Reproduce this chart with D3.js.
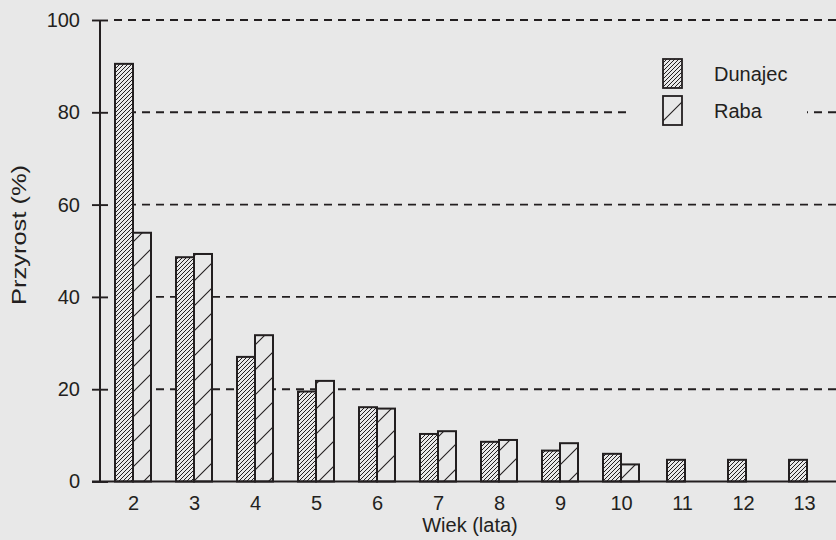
<!DOCTYPE html>
<html lang="pl">
<head>
<meta charset="UTF-8">
<title>Przyrost - Dunajec i Raba</title>
<script src="https://cdn.jsdelivr.net/npm/d3@7"></script>
<style>
  body { margin: 0; background: #e8e8e8; }
  svg { display: block; font-family: "Liberation Sans", Arial, sans-serif; }
  text { fill: #231f20; }
</style>
</head>
<body>
<svg width="836" height="540"></svg>
<script>
  // dane
  const ages = [2, 3, 4, 5, 6, 7, 8, 9, 10, 11, 12, 13];
  const dunajec = [90.5, 48.6, 27.0, 19.5, 16.1, 10.3, 8.6, 6.7, 6.0, 4.7, 4.7, 4.7];
  const raba = [53.9, 49.3, 31.7, 21.8, 15.8, 10.9, 9.0, 8.3, 3.7, null, null, null];
  const yTicks = [0, 20, 40, 60, 80, 100];
  const seriesNames = ["Dunajec", "Raba"];

  const ink = "#231f20";
  const bg = "#e8e8e8";
  const W = 836, H = 540;
  const barW = 18;
  const fs = 20;

  const svg = d3.select("svg");
  svg.append("rect").attr("width", W).attr("height", H).attr("fill", bg);

  const x = d3.scalePoint().domain(ages).range([133, 804]);
  const y = d3.scaleLinear().domain([0, 100]).range([481.5, 20]);
  const axisX = 100;

  // wzory kreskowania
  const defs = svg.append("defs");
  const pd = defs.append("pattern").attr("id", "hatchD")
    .attr("patternUnits", "userSpaceOnUse").attr("width", 4).attr("height", 4);
  pd.append("rect").attr("width", 4).attr("height", 4).attr("fill", bg);
  pd.append("path").attr("d", "M-1,1 l2,-2 M0,4 l4,-4 M3,5 l2,-2")
    .attr("stroke", ink).attr("stroke-width", 1);

  const pr = defs.append("pattern").attr("id", "hatchR")
    .attr("patternUnits", "userSpaceOnUse").attr("width", 25).attr("height", 25);
  pr.append("rect").attr("width", 25).attr("height", 25).attr("fill", bg);
  pr.append("path").attr("d", "M-2,2 l4,-4 M0,25 l25,-25 M23,27 l4,-4")
    .attr("stroke", ink).attr("stroke-width", 1.1);

  // linie siatki (przerywane)
  svg.append("g").selectAll("line").data(yTicks.filter(d => d > 0)).join("line")
    .attr("x1", axisX + 8).attr("x2", W)
    .attr("y1", d => y(d)).attr("y2", d => y(d))
    .attr("stroke", ink).attr("stroke-width", 1.9)
    .attr("stroke-dasharray", "8,6").attr("stroke-dashoffset", -6);

  // legenda tlo (zaslania siatke)
  svg.append("rect").attr("x", 630).attr("y", 50).attr("width", 177).attr("height", 85).attr("fill", bg);

  // slupki
  const bars = [];
  ages.forEach((a, i) => {
    const single = raba[i] == null;
    const off = single ? 3 : 0;
    bars.push({ age: a, v: dunajec[i], x: x(a) - barW + off, fill: "url(#hatchD)" });
    if (!single) bars.push({ age: a, v: raba[i], x: x(a), fill: "url(#hatchR)" });
  });
  svg.append("g").selectAll("rect").data(bars).join("rect")
    .attr("x", d => d.x).attr("width", barW)
    .attr("y", d => y(d.v)).attr("height", d => y(0) - y(d.v))
    .attr("fill", d => d.fill).attr("stroke", ink).attr("stroke-width", 2);

  // os Y
  const yAxis = d3.axisLeft(y).tickValues(yTicks).tickSize(0).tickPadding(20);
  const gy = svg.append("g").attr("transform", `translate(${axisX},0)`).call(yAxis);
  gy.select(".domain").remove();
  gy.selectAll("text").attr("font-size", fs).attr("fill", ink)
    .attr("font-family", "Liberation Sans, Arial, sans-serif");
  gy.selectAll(".tick").append("line")
    .attr("x1", -8).attr("x2", 8).attr("stroke", ink).attr("stroke-width", 1.9);
  svg.append("line").attr("x1", axisX).attr("x2", axisX)
    .attr("y1", y(100)).attr("y2", y(0)).attr("stroke", ink).attr("stroke-width", 2);

  // os X
  svg.append("line").attr("x1", axisX - 8).attr("x2", W)
    .attr("y1", y(0)).attr("y2", y(0)).attr("stroke", ink).attr("stroke-width", 2);
  const xAxis = d3.axisBottom(x).tickSize(0).tickPadding(14);
  const gx = svg.append("g").attr("transform", `translate(0,${y(0)})`).call(xAxis);
  gx.select(".domain").remove();
  gx.selectAll("text").attr("font-size", fs).attr("fill", ink)
    .attr("font-family", "Liberation Sans, Arial, sans-serif");

  // tytuly osi
  svg.append("text").attr("x", 470).attr("y", 532).attr("text-anchor", "middle")
    .attr("font-size", fs).text("Wiek (lata)");
  svg.append("text").attr("transform", "translate(26,235) rotate(-90)")
    .attr("text-anchor", "middle").attr("font-size", fs)
    .attr("textLength", 140).attr("lengthAdjust", "spacingAndGlyphs")
    .text("Przyrost (%)");

  // legenda
  const leg = svg.append("g").selectAll("g").data(seriesNames).join("g")
    .attr("transform", (d, i) => `translate(663,${59 + i * 37})`);
  leg.append("rect").attr("width", 19).attr("height", 29)
    .attr("fill", (d, i) => i === 0 ? "url(#hatchD)" : "url(#hatchR)")
    .attr("stroke", ink).attr("stroke-width", 1.8);
  leg.append("text").attr("x", 51).attr("y", 22).attr("font-size", fs).text(d => d);
</script>
</body>
</html>
